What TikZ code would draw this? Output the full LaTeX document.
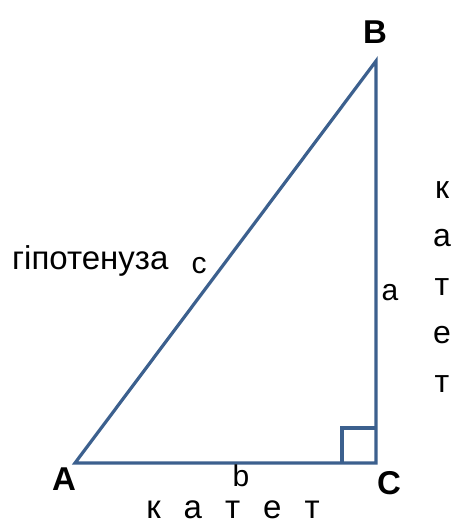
\documentclass[tikz,border=0pt]{standalone}
\usepackage{fontspec}
\setmainfont{Liberation Sans}
\usetikzlibrary{positioning}
\definecolor{sidecol}{RGB}{60,96,142}

\begin{document}
\begin{tikzpicture}[
  x=1pt, y=-1pt,
  side/.style={draw=sidecol, line width=3.2pt, line join=miter},
  vertex/.style={font=\fontsize{33}{38}\selectfont\bfseries, inner sep=0pt},
  letter/.style={font=\fontsize{30}{34}\selectfont, inner sep=0pt},
  word/.style={font=\fontsize{33}{38}\selectfont, inner sep=0pt}
]
\useasboundingbox (0,0) rectangle (453,524);

% === TRIANGLE ===
\coordinate (A) at (75,463);
\coordinate (B) at (376,61);
\coordinate (C) at (376,463);

\draw[side] (A) -- (B) -- (C) -- cycle;
% right angle mark
\draw[side] (C) ++(-34,0) |- ++(34,-35);

% === VERTICES ===
\node[vertex] (lblA) at (64,479) {A};
\node[vertex] (lblB) at (375,32) {B};
\node[vertex] (lblC) at (389,483) {C};

% === SIDES ===
\node[letter] (lblc) at (199,266) {c};
\node[letter] (lbla) at (390,293) {a};
\node[letter] (lblb) at (241,476) {b};

\node[word, anchor=base west] (hyp) at (12,269) {гіпотенуза};
\node[word, anchor=base] (katb) at (233,518) {\spaceskip=23pt к а т е т};
\node[word, align=center, anchor=north, font=\fontsize{32}{48.5}\selectfont] (kata) at (442,181) {к\\а\\т\\е\\т};

\end{tikzpicture}
\end{document}
